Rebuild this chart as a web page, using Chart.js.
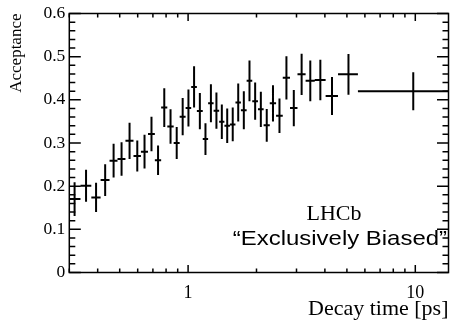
<!DOCTYPE html>
<html>
  <head>
    <script src="https://cdn.jsdelivr.net/npm/chart.js@4.4.1/dist/chart.umd.min.js"></script>
    <style>
      html, body { margin: 0; padding: 0; background: #fff; }
    </style>
  </head>

  <body>
    <canvas id="canvas" width="451" height="324"></canvas>
    <script>
      // decay time bins [ps] (edges), acceptance per bin and its uncertainty
      const binEdges = [0.297, 0.336, 0.375, 0.412, 0.451, 0.489, 0.530, 0.575, 0.620, 0.666,
        0.714, 0.761, 0.810, 0.864, 0.918, 0.975, 1.032, 1.093, 1.160, 1.225,
        1.295, 1.370, 1.445, 1.528, 1.616, 1.708, 1.810, 1.916, 2.030, 2.150,
        2.288, 2.439, 2.610, 2.808, 3.030, 3.290, 3.610, 4.030, 4.570, 5.590, 14.0];
      const acceptance = [0.170, 0.201, 0.174, 0.214, 0.259, 0.263, 0.305, 0.270, 0.280, 0.321,
        0.260, 0.382, 0.338, 0.300, 0.361, 0.381, 0.430, 0.374, 0.309, 0.392,
        0.375, 0.349, 0.340, 0.343, 0.394, 0.376, 0.444, 0.397, 0.378, 0.341,
        0.392, 0.363, 0.451, 0.381, 0.459, 0.444, 0.446, 0.409, 0.459, 0.420];
      const acceptanceErr = [0.039, 0.037, 0.034, 0.037, 0.039, 0.039, 0.042, 0.036, 0.039, 0.040,
        0.034, 0.045, 0.040, 0.037, 0.043, 0.043, 0.048, 0.042, 0.037, 0.044,
        0.042, 0.040, 0.040, 0.039, 0.044, 0.044, 0.047, 0.043, 0.041, 0.038,
        0.042, 0.040, 0.050, 0.042, 0.048, 0.047, 0.047, 0.044, 0.047, 0.044];
      const xLabels = [1, 10];
      const labelText = 'LHCb';
      const selText = '\u201CExclusively Biased\u201D';

      const points = acceptance.map((v, i) => ({
        x: (binEdges[i] + binEdges[i + 1]) / 2,
        y: v,
        xLo: binEdges[i],
        xHi: binEdges[i + 1],
        yLo: v - acceptanceErr[i],
        yHi: v + acceptanceErr[i],
      }));

      const serif = "'Liberation Serif', 'Times New Roman', serif";
      Chart.defaults.font.family = serif;
      Chart.defaults.color = '#000';

      const errorBars = {
        id: 'errorBars',
        afterDatasetsDraw(chart) {
          const { ctx, chartArea: a, scales: { x, y } } = chart;
          ctx.save();
          ctx.beginPath();
          ctx.rect(a.left, a.top, a.width, a.height);
          ctx.clip();
          ctx.strokeStyle = '#000';
          ctx.lineWidth = 2;
          ctx.beginPath();
          chart.data.datasets[0].data.forEach((p) => {
            const px = x.getPixelForValue(p.x);
            const py = y.getPixelForValue(p.y);
            ctx.moveTo(x.getPixelForValue(p.xLo), py);
            ctx.lineTo(x.getPixelForValue(p.xHi), py);
            ctx.moveTo(px, y.getPixelForValue(p.yLo));
            ctx.lineTo(px, y.getPixelForValue(p.yHi));
          });
          ctx.stroke();
          ctx.restore();
        },
      };

      // ROOT style frame with inward ticks on all four sides
      const frame = {
        id: 'frame',
        afterDraw(chart) {
          const { ctx, chartArea: a, scales: { x, y } } = chart;
          ctx.save();
          ctx.strokeStyle = '#000';
          ctx.lineWidth = 1.5;
          ctx.strokeRect(a.left, a.top, a.width, a.height);
          ctx.beginPath();
          for (let k = 0; k <= 30; k++) {
            const py = y.getPixelForValue(k * 0.02);
            const len = k % 5 === 0 ? 11.5 : 6;
            ctx.moveTo(a.left, py); ctx.lineTo(a.left + len, py);
            ctx.moveTo(a.right, py); ctx.lineTo(a.right - len, py);
          }
          [0.1, 1, 10].forEach((dec) => {
            for (let m = 1; m <= 9; m++) {
              const v = m * dec;
              if (v < x.min || v > x.max) continue;
              const px = x.getPixelForValue(v);
              const len = m === 1 ? 7.5 : 4;
              ctx.moveTo(px, a.bottom); ctx.lineTo(px, a.bottom - len);
              ctx.moveTo(px, a.top); ctx.lineTo(px, a.top + len);
            }
          });
          ctx.stroke();

          ctx.fillStyle = '#000';
          ctx.textBaseline = 'alphabetic';
          ctx.save();
          ctx.translate(334, 220);
          ctx.scale(1.1, 1);
          ctx.font = '20px ' + serif;
          ctx.textAlign = 'center';
          ctx.fillText(labelText, 0, 0);
          ctx.restore();
          ctx.save();
          ctx.translate(447, 245);
          ctx.scale(1.14, 1);
          ctx.font = "21px 'Liberation Sans', Arial, sans-serif";
          ctx.textAlign = 'right';
          ctx.fillText(selText, 0, 0);
          ctx.restore();
          ctx.restore();
        },
      };

      new Chart(document.getElementById('canvas').getContext('2d'), {
        type: 'scatter',
        data: {
          datasets: [
            {
              label: 'Acceptance',
              data: points,
              pointRadius: 0,
              pointHoverRadius: 0,
              showLine: false,
            },
          ],
        },
        options: {
          responsive: false,
          animation: false,
          layout: { padding: { top: 13.5, right: 2.5, left: 0, bottom: 0 } },
          plugins: { legend: { display: false }, tooltip: { enabled: false } },
          scales: {
            x: {
              type: 'logarithmic',
              min: 0.3,
              max: 14,
              grid: { display: false, drawTicks: false },
              border: { display: false },
              ticks: {
                autoSkip: false,
                maxRotation: 0,
                padding: 10,
                font: { size: 18 },
                callback: (v) => (xLabels.includes(v) ? String(v) : ''),
              },
              title: {
                display: true,
                text: 'Decay time [ps]',
                align: 'end',
                font: { size: 22 },
                padding: { top: 0, bottom: 2 },
              },
              afterFit: (s) => {
                s.height = 51.5;
                s.paddingLeft = 0;
                s.paddingRight = 0;
              },
            },
            y: {
              min: 0,
              max: 0.6,
              grid: { display: false, drawTicks: false },
              border: { display: false },
              ticks: { stepSize: 0.1, padding: 4, font: { size: 17.5 } },
              title: {
                display: true,
                text: 'Acceptance',
                align: 'end',
                font: { size: 17 },
                padding: { top: 6, bottom: 0 },
              },
              afterFit: (s) => {
                s.width = 69.3;
                s.paddingTop = 0;
                s.paddingBottom = 0;
              },
            },
          },
        },
        plugins: [errorBars, frame],
      });
    </script>
  </body>
</html>
